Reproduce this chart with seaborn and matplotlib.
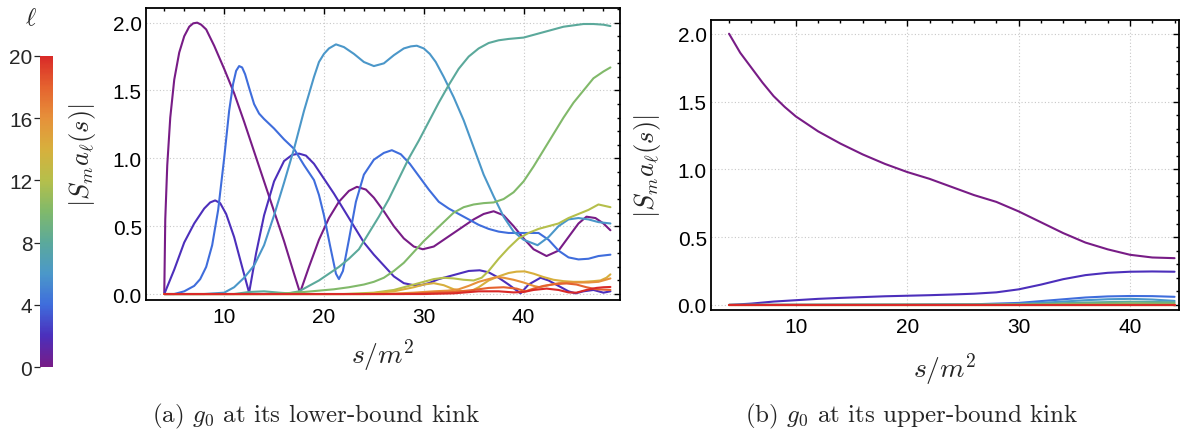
import numpy as np
import pandas as pd
import matplotlib
matplotlib.use("Agg")
import matplotlib.pyplot as plt
import seaborn as sns
from matplotlib.colors import LinearSegmentedColormap, Normalize
from matplotlib.cm import ScalarMappable
from matplotlib.ticker import MultipleLocator

# ---------------- data: panel (a) g0 at lower-bound kink ----------------
a_s0 = [4.0, 4.1, 4.3, 4.6, 5.0, 5.5, 6.0, 6.5, 6.9, 7.3, 7.7, 8.2, 9.0, 10.0, 11.0, 12.0, 13.0, 14.0, 15.0, 16.0,
        17.0, 17.6, 18.5, 19.5, 20.5, 21.5, 22.5, 23.3, 24.2, 25.0, 26.0, 27.0, 28.0, 29.0, 29.9, 31.0, 32.0, 33.0,
        34.0, 35.0, 36.0, 37.0, 38.0, 39.0, 40.0, 41.0, 42.3, 43.5, 44.5, 45.5, 46.3, 47.2, 48.0, 48.7]
a_v0 = [0.0, 0.55, 0.95, 1.3, 1.58, 1.78, 1.9, 1.97, 1.995, 2.0, 1.985, 1.95, 1.83, 1.66, 1.48, 1.27, 1.05, 0.83, 0.61,
        0.39, 0.15, 0.01, 0.2, 0.4, 0.56, 0.68, 0.76, 0.79, 0.77, 0.71, 0.61, 0.5, 0.41, 0.35, 0.33, 0.35, 0.4, 0.45,
        0.5, 0.55, 0.59, 0.61, 0.58, 0.5, 0.41, 0.33, 0.28, 0.32, 0.42, 0.52, 0.57, 0.56, 0.52, 0.47]

a_s2 = [4.0, 5.0, 6.0, 7.0, 8.0, 8.6, 9.1, 9.6, 10.2, 11.0, 11.8, 12.5, 13.2, 14.0, 15.0, 16.0, 16.8, 17.5, 18.2, 19.0,
        20.0, 21.0, 22.0, 23.0, 24.0, 25.0, 26.0, 27.0, 28.0, 29.0, 29.7, 30.5, 31.5, 32.5, 33.5, 34.5, 35.6, 36.5,
        37.5, 38.5, 39.7, 40.5, 41.7, 42.5, 43.5, 44.5, 45.2, 46.0, 47.0, 48.0, 48.7]
a_v2 = [0.0, 0.18, 0.38, 0.52, 0.63, 0.675, 0.69, 0.67, 0.59, 0.42, 0.2, 0.01, 0.3, 0.58, 0.83, 0.98, 1.025, 1.035,
        1.02, 0.96, 0.85, 0.74, 0.62, 0.5, 0.38, 0.29, 0.21, 0.13, 0.08, 0.065, 0.065, 0.08, 0.11, 0.13, 0.15, 0.17,
        0.175, 0.16, 0.12, 0.07, 0.005, 0.07, 0.12, 0.1, 0.06, 0.02, 0.005, 0.02, 0.03, 0.01, 0.02]

a_s4 = [4.0, 5.0, 6.0, 7.0, 7.6, 8.2, 8.8, 9.4, 10.0, 10.5, 10.9, 11.2, 11.5, 11.8, 12.1, 12.5, 13.0, 13.5, 14.0, 15.0,
        16.0, 17.0, 18.0, 19.0, 19.5, 20.0, 20.6, 21.2, 21.5, 21.9, 22.5, 23.2, 24.0, 25.0, 26.0, 26.8, 27.7, 28.6,
        29.5, 30.5, 31.5, 32.5, 33.5, 34.5, 35.5, 36.5, 37.5, 38.5, 39.5, 40.5, 41.5, 42.5, 43.5, 44.5, 45.5, 46.5,
        47.5, 48.7]
a_v4 = [0.0, 0.0, 0.02, 0.06, 0.11, 0.2, 0.36, 0.62, 1.0, 1.35, 1.55, 1.645, 1.68, 1.67, 1.62, 1.52, 1.4, 1.33, 1.29,
        1.22, 1.14, 1.07, 0.95, 0.84, 0.73, 0.58, 0.36, 0.15, 0.11, 0.17, 0.4, 0.68, 0.88, 0.99, 1.04, 1.06, 1.03,
        0.96, 0.87, 0.77, 0.68, 0.63, 0.59, 0.55, 0.51, 0.48, 0.46, 0.45, 0.45, 0.45, 0.45, 0.4, 0.32, 0.27, 0.255,
        0.26, 0.28, 0.29]

a_s6 = [4.0, 8.0, 10.0, 11.0, 12.0, 13.0, 14.0, 15.0, 16.0, 17.0, 18.0, 19.0, 19.5, 20.0, 20.5, 21.2, 22.0, 23.0, 24.0,
        25.0, 26.0, 27.0, 28.0, 28.7, 29.3, 30.0, 30.6, 31.2, 32.0, 33.0, 34.0, 35.0, 36.0, 37.0, 38.0, 39.0, 40.0,
        41.4, 42.5, 43.5, 44.5, 45.5, 46.5, 47.5, 48.7]
a_v6 = [0.0, 0.0, 0.01, 0.05, 0.12, 0.21, 0.36, 0.58, 0.82, 1.07, 1.35, 1.6, 1.71, 1.77, 1.81, 1.84, 1.82, 1.77, 1.71,
        1.68, 1.7, 1.76, 1.81, 1.825, 1.83, 1.81, 1.77, 1.71, 1.6, 1.45, 1.28, 1.08, 0.88, 0.72, 0.57, 0.46, 0.4,
        0.36, 0.42, 0.5, 0.55, 0.56, 0.55, 0.53, 0.52]

a_s8 = [4.0, 11.0, 12.5, 14.0, 15.5, 16.5, 17.5, 18.5, 19.5, 20.5, 21.5, 22.5, 23.5, 24.5, 25.5, 26.5, 27.5, 28.5,
        29.5, 30.5, 31.5, 32.5, 33.5, 34.5, 35.5, 36.5, 37.5, 38.5, 40.0, 41.0, 42.0, 43.0, 44.0, 45.0, 46.0, 47.0,
        48.0, 48.7]
a_v8 = [0.0, 0.0, 0.015, 0.02, 0.01, 0.005, 0.02, 0.06, 0.1, 0.15, 0.2, 0.26, 0.33, 0.45, 0.57, 0.7, 0.85, 1.0,
        1.13, 1.27, 1.41, 1.54, 1.66, 1.75, 1.81, 1.85, 1.87, 1.88, 1.89, 1.91, 1.93, 1.95, 1.97, 1.98, 1.99, 1.99,
        1.985, 1.975]

a_s10 = [4.0, 14.0, 16.0, 18.0, 19.5, 21.0, 22.5, 24.0, 25.0, 26.0, 27.0, 28.0, 29.0, 30.0, 31.0, 32.0, 33.0, 34.0,
         35.0, 36.0, 37.0, 38.0, 39.0, 40.0, 41.0, 42.0, 43.0, 44.0, 45.0, 46.0, 47.0, 48.0, 48.7]
a_v10 = [0.0, 0.0, 0.005, 0.015, 0.025, 0.035, 0.05, 0.07, 0.09, 0.12, 0.17, 0.23, 0.31, 0.39, 0.46, 0.53, 0.6, 0.64,
         0.66, 0.67, 0.675, 0.7, 0.75, 0.83, 0.94, 1.06, 1.18, 1.3, 1.41, 1.5, 1.59, 1.64, 1.67]

a_s12 = [4.0, 22.0, 25.0, 27.0, 28.5, 30.0, 31.0, 32.0, 33.0, 34.0, 35.0, 35.8, 36.5, 37.5, 38.5, 39.5, 40.5, 41.5,
         42.5, 43.5, 44.5, 45.5, 46.5, 47.5, 48.7]
a_v12 = [0.0, 0.0, 0.01, 0.03, 0.06, 0.09, 0.11, 0.12, 0.115, 0.105, 0.1, 0.12, 0.17, 0.26, 0.34, 0.41, 0.45, 0.48,
         0.5, 0.52, 0.56, 0.59, 0.62, 0.66, 0.64]

a_s14 = [4.0, 24.0, 27.0, 29.0, 30.0, 31.0, 32.0, 33.0, 34.0, 34.7, 35.5, 36.5, 37.5, 38.5, 39.3, 40.1, 41.0, 42.0,
         43.0, 44.0, 45.0, 46.0, 47.0, 47.7, 48.3, 48.7]
a_v14 = [0.0, 0.0, 0.02, 0.05, 0.07, 0.08, 0.065, 0.035, 0.018, 0.02, 0.05, 0.1, 0.13, 0.155, 0.165, 0.167, 0.15, 0.125,
         0.105, 0.095, 0.09, 0.09, 0.095, 0.1, 0.12, 0.145]

a_s16 = [4.0, 26.0, 29.0, 31.0, 32.4, 33.5, 34.5, 35.5, 36.5, 37.3, 38.0, 39.0, 40.0, 41.0, 41.6, 42.5, 43.5, 44.5,
         45.5, 46.5, 47.5, 48.7]
a_v16 = [0.0, 0.0, 0.01, 0.02, 0.025, 0.035, 0.06, 0.09, 0.11, 0.125, 0.12, 0.105, 0.085, 0.06, 0.05, 0.065, 0.08, 0.085,
         0.085, 0.085, 0.09, 0.115]

a_s18 = [4.0, 28.0, 31.0, 33.0, 35.0, 36.5, 38.0, 39.3, 40.2, 41.0, 42.0, 43.0, 44.3, 45.3, 46.3, 47.3, 48.7]
a_v18 = [0.0, 0.0, 0.01, 0.015, 0.03, 0.045, 0.05, 0.04, 0.02, 0.04, 0.06, 0.072, 0.078, 0.07, 0.05, 0.035, 0.03]

a_s20 = [4.0, 30.0, 33.0, 35.5, 37.5, 39.0, 40.0, 41.0, 42.3, 43.5, 44.5, 45.3, 46.3, 47.3, 48.0, 48.7]
a_v20 = [0.0, 0.0, 0.005, 0.02, 0.02, 0.012, 0.015, 0.03, 0.04, 0.03, 0.012, 0.01, 0.03, 0.045, 0.05, 0.052]

# ---------------- data: panel (b) g0 at upper-bound kink ----------------
b_s0 = [4.0, 5.0, 6.0, 7.0, 8.0, 9.0, 10.0, 12.0, 14.0, 16.0, 18.0, 20.0, 22.0, 24.0, 26.0, 28.0, 30.0, 32.0, 34.0,
        36.0, 38.0, 40.0, 42.0, 44.0]
b_v0 = [2.0, 1.86, 1.75, 1.64, 1.54, 1.46, 1.39, 1.28, 1.19, 1.11, 1.04, 0.98, 0.93, 0.87, 0.81, 0.76, 0.69, 0.61, 0.53,
        0.46, 0.41, 0.37, 0.35, 0.345]
b_s2 = [4.0, 6.0, 8.0, 10.0, 12.0, 14.0, 16.0, 18.0, 20.0, 22.0, 24.0, 26.0, 28.0, 30.0, 32.0, 34.0, 36.0, 38.0, 40.0,
        42.0, 44.0]
b_v2 = [0.0, 0.01, 0.025, 0.035, 0.045, 0.052, 0.058, 0.064, 0.068, 0.072, 0.077, 0.083, 0.093, 0.115, 0.15, 0.19,
        0.22, 0.237, 0.245, 0.247, 0.245]
b_s4 = [4.0, 20.0, 26.0, 30.0, 33.0, 36.0, 38.0, 40.0, 42.0, 44.0]
b_v4 = [0.0, 0.002, 0.005, 0.015, 0.035, 0.055, 0.063, 0.066, 0.065, 0.06]
b_s6 = [4.0, 26.0, 30.0, 33.0, 36.0, 38.0, 40.0, 42.0, 44.0]
b_v6 = [0.0, 0.002, 0.008, 0.02, 0.035, 0.042, 0.045, 0.04, 0.03]
b_s8 = [4.0, 28.0, 32.0, 36.0, 40.0, 42.0, 44.0]
b_v8 = [0.0, 0.002, 0.008, 0.018, 0.024, 0.022, 0.02]
b_s10 = [4.0, 30.0, 36.0, 40.0, 44.0]
b_v10 = [0.0, 0.002, 0.008, 0.012, 0.01]
b_s_zero = [4.0, 44.0]
b_v_zero = [0.0, 0.0]

ells = [0, 2, 4, 6, 8, 10, 12, 14, 16, 18, 20]
cbar_ticks = [0, 4, 8, 12, 16, 20]
x_ticks = [10, 20, 30, 40]
y_ticks = [0.0, 0.5, 1.0, 1.5, 2.0]

panel_a = {0: (a_s0, a_v0), 2: (a_s2, a_v2), 4: (a_s4, a_v4), 6: (a_s6, a_v6), 8: (a_s8, a_v8),
           10: (a_s10, a_v10), 12: (a_s12, a_v12), 14: (a_s14, a_v14), 16: (a_s16, a_v16),
           18: (a_s18, a_v18), 20: (a_s20, a_v20)}
panel_b = {0: (b_s0, b_v0), 2: (b_s2, b_v2), 4: (b_s4, b_v4), 6: (b_s6, b_v6), 8: (b_s8, b_v8),
           10: (b_s10, b_v10), 12: (b_s_zero, b_v_zero), 14: (b_s_zero, b_v_zero), 16: (b_s_zero, b_v_zero),
           18: (b_s_zero, b_v_zero), 20: (b_s_zero, b_v_zero)}


def to_frame(panel):
    rows = []
    for ell, (ss, vv) in panel.items():
        for s, v in zip(ss, vv):
            rows.append((ell, s, v))
    return pd.DataFrame(rows, columns=["ell", "s", "val"])


df_a = to_frame(panel_a)
df_b = to_frame(panel_b)

# ---------------- style ----------------
sns.set_style("white")
plt.rcParams["font.family"] = ["Liberation Sans", "DejaVu Sans"]
plt.rcParams["mathtext.fontset"] = "cm"
plt.rcParams["axes.unicode_minus"] = False

rainbow = LinearSegmentedColormap.from_list("mmaRainbow", [
    (0.0, "#781c86"), (0.1, "#4b2fbc"), (0.2, "#3f6ddc"), (0.3, "#4b98c9"),
    (0.4, "#5ba99b"), (0.5, "#80b96b"), (0.6, "#b5bf4b"), (0.7, "#d7b03d"),
    (0.8, "#e6913a"), (0.9, "#e5632f"), (1.0, "#d92a28")])
norm = Normalize(0, 20)
palette = {e: rainbow(norm(e)) for e in ells}

fig = plt.figure(figsize=(11.81, 4.31), dpi=100)
ax_a = fig.add_axes([146 / 1181, 1 - 301 / 431, 474 / 1181, 292 / 431])
ax_b = fig.add_axes([711 / 1181, 1 - 310.7 / 431, 468 / 1181, 289.4 / 431])
cax = fig.add_axes([40 / 1181, 1 - 368.3 / 431, 13.3 / 1181, 311.6 / 431])

for ax, df, xlim, ylim in [(ax_a, df_a, (2.17, 49.66), (-0.044, 2.108)),
                           (ax_b, df_b, (2.38, 44.4), (-0.035, 2.099))]:
    sns.lineplot(data=df, x="s", y="val", hue="ell", palette=palette, estimator=None,
                 sort=True, legend=False, linewidth=1.5, ax=ax)
    ax.set_xlim(*xlim)
    ax.set_ylim(*ylim)
    ax.set_xticks(x_ticks)
    ax.set_yticks(y_ticks)
    ax.set_yticklabels([f"{t:.1f}" for t in y_ticks])
    ax.xaxis.set_minor_locator(MultipleLocator(2))
    ax.yaxis.set_minor_locator(MultipleLocator(0.1))
    ax.tick_params(which="both", direction="in", top=True, right=True, colors="black",
                   labelsize=15, width=1.0)
    ax.tick_params(which="major", length=4.5)
    ax.tick_params(which="minor", length=2.5)
    ax.tick_params(axis="x", pad=5)
    ax.tick_params(axis="y", pad=3)
    ax.grid(True, which="major", color="#c8c8c8", linestyle=(0, (1, 2)), linewidth=0.8)
    ax.set_axisbelow(True)
    for sp in ax.spines.values():
        sp.set_visible(True)
        sp.set_color("black")
        sp.set_linewidth(1.3)
    ax.set_xlabel(r"$s/m^2$", fontsize=20)
    ax.set_ylabel(r"$|S_m a_\ell(s)|$", fontsize=19)
    ax.yaxis.set_label_coords(-0.102, 0.5)

ax_a.xaxis.set_label_coords(0.5, -0.125)
ax_b.xaxis.set_label_coords(0.5, -0.14)

# colorbar
cb = fig.colorbar(ScalarMappable(norm=norm, cmap=rainbow), cax=cax, ticks=cbar_ticks)
cb.outline.set_visible(False)
cax.yaxis.set_ticks_position("left")
cax.tick_params(length=4, width=0.9, pad=1.5, labelsize=15)
fig.text(31 / 1181, 1 - 18 / 431, r"$\ell$", fontsize=18, ha="center", va="center")

# captions
fig.text(316 / 1181, 1 - 422 / 431, r"(a) $g_0$ at its lower-bound kink", family="cmr10",
         fontsize=18, ha="center", va="baseline")
fig.text(912 / 1181, 1 - 422 / 431, r"(b) $g_0$ at its upper-bound kink", family="cmr10",
         fontsize=18, ha="center", va="baseline")

fig.savefig("out.png", dpi=100)
